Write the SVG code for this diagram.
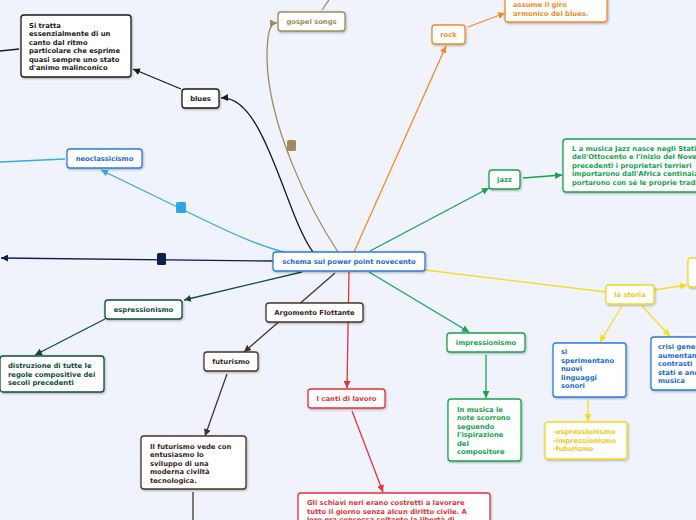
<svg xmlns="http://www.w3.org/2000/svg" width="696" height="520" viewBox="0 0 696 520">
<defs>
<style>
text{font-family:"DejaVu Sans",Verdana,sans-serif;font-weight:bold;font-size:6.8px}
.c{text-anchor:middle}
.box{fill:#fff;stroke-width:1.3;filter:url(#sh)}
.ln{fill:none;stroke-width:1.3}
.k{stroke:#1a1a1a}.kt{fill:#1a1a1a}
.t{stroke:#a08a5c}.tt{fill:#a08a5c}
.o{stroke:#f28c28}.ot{fill:#f28c28}
.g{stroke:#17a34f}.gt{fill:#17a34f}
.lb{stroke:#3aa8e4}
.b{stroke:#2a7be0}.bt{fill:#1c6ad6}
.n{stroke:#0d2150}
.dg{stroke:#0e4d3c}.dgt{fill:#0e4d3c}
.br{stroke:#4a3428}.brt{fill:#3a281e}
.r{stroke:#e5323b}.rt{fill:#e5323b}
.y{stroke:#f5dc1e}.yt{fill:#eccb12}
</style>
<filter id="sh" x="-20%" y="-20%" width="140%" height="150%"><feDropShadow dx="0.8" dy="1" stdDeviation="0.8" flood-color="#000" flood-opacity="0.3"/></filter>
<marker id="mk" markerUnits="userSpaceOnUse" markerWidth="7" markerHeight="7" refX="7" refY="3.5" orient="auto"><path d="M0,0L7,3.5L0,7z" fill="#1a1a1a"/></marker>
<marker id="mt" markerUnits="userSpaceOnUse" markerWidth="7" markerHeight="7" refX="7" refY="3.5" orient="auto"><path d="M0,0L7,3.5L0,7z" fill="#a08a5c"/></marker>
<marker id="mo" markerUnits="userSpaceOnUse" markerWidth="7" markerHeight="7" refX="7" refY="3.5" orient="auto"><path d="M0,0L7,3.5L0,7z" fill="#f28c28"/></marker>
<marker id="mg" markerUnits="userSpaceOnUse" markerWidth="7" markerHeight="7" refX="7" refY="3.5" orient="auto"><path d="M0,0L7,3.5L0,7z" fill="#17a34f"/></marker>
<marker id="mlb" markerUnits="userSpaceOnUse" markerWidth="7" markerHeight="7" refX="7" refY="3.5" orient="auto"><path d="M0,0L7,3.5L0,7z" fill="#3aa8e4"/></marker>
<marker id="mn" markerUnits="userSpaceOnUse" markerWidth="7" markerHeight="7" refX="7" refY="3.5" orient="auto"><path d="M0,0L7,3.5L0,7z" fill="#0d2150"/></marker>
<marker id="mdg" markerUnits="userSpaceOnUse" markerWidth="7" markerHeight="7" refX="7" refY="3.5" orient="auto"><path d="M0,0L7,3.5L0,7z" fill="#0e4d3c"/></marker>
<marker id="mbr" markerUnits="userSpaceOnUse" markerWidth="7" markerHeight="7" refX="7" refY="3.5" orient="auto"><path d="M0,0L7,3.5L0,7z" fill="#4a3428"/></marker>
<marker id="mr" markerUnits="userSpaceOnUse" markerWidth="7" markerHeight="7" refX="7" refY="3.5" orient="auto"><path d="M0,0L7,3.5L0,7z" fill="#e5323b"/></marker>
<marker id="my" markerUnits="userSpaceOnUse" markerWidth="7" markerHeight="7" refX="7" refY="3.5" orient="auto"><path d="M0,0L7,3.5L0,7z" fill="#f5dc1e"/></marker>
</defs>
<rect x="0" y="0" width="696" height="520" fill="#f0f3fc"/>

<g id="connectors">
<path class="ln k" d="M0,51L19,49"/>
<path class="ln k" d="M181,89L133,69" marker-end="url(#mk)"/>
<path class="ln k" d="M313,252C285,215 265,95 221,98" marker-end="url(#mk)"/>
<path class="ln t" d="M322,10L329,0"/>
<path class="ln t" d="M338,252C310,210 268,125 267,58C267,32 270,23 277,23" marker-end="url(#mt)"/>
<rect x="287" y="140" width="9" height="11" rx="1.5" fill="#a08a5c"/>
<path class="ln o" d="M354,252L446,46" marker-end="url(#mo)"/>
<path class="ln o" d="M468,27L505,13" marker-end="url(#mo)"/>
<path class="ln g" d="M370,251L489,188" marker-end="url(#mg)"/>
<path class="ln g" d="M523,178L562,175" marker-end="url(#mg)"/>
<path class="ln lb" d="M0,162L65,159"/>
<path class="ln lb" d="M288,253C262,247 235,235 200,218L101,170" marker-end="url(#mlb)"/>
<rect x="176" y="202" width="10" height="11" rx="1.5" fill="#2fa6e2"/>
<path class="ln n" d="M273,261L1,258" marker-end="url(#mn)"/>
<rect x="157" y="253" width="9" height="12" rx="1.5" fill="#0d2150"/>
<path class="ln dg" d="M302,272L184,300" marker-end="url(#mdg)"/>
<path class="ln dg" d="M105,319L35,355" marker-end="url(#mdg)"/>
<path class="ln br" d="M335,273L244,352" marker-end="url(#mbr)"/>
<path class="ln br" d="M227,374L205,436" marker-end="url(#mbr)"/>
<path class="ln br" d="M193,492L193,520"/>
<path class="ln r" d="M349,272L347,388" marker-end="url(#mr)"/>
<path class="ln r" d="M352,411L383,492" marker-end="url(#mr)"/>
<path class="ln g" d="M369,272L469,332" marker-end="url(#mg)"/>
<path class="ln g" d="M486,355L486,398" marker-end="url(#mg)"/>
<path class="ln y" d="M425,270L606,292"/>
<path class="ln y" d="M654,290L687,285" marker-end="url(#my)"/>
<path class="ln y" d="M622,306L600,342" marker-end="url(#my)"/>
<path class="ln y" d="M642,306L670,336" marker-end="url(#my)"/>
<path class="ln y" d="M588,400L588,421" marker-end="url(#my)"/>
</g>

<g id="center">
<rect class="box b" x="273" y="252" width="152" height="19" rx="3"/>
<text class="c bt" x="349" y="264">schema sul power point novecento</text>
</g>

<g id="si-tratta">
<rect class="box k" x="21" y="15" width="110" height="62" rx="3"/>
<text class="kt" x="29" y="27.5">Si tratta</text>
<text class="kt" x="29" y="36">essenzialmente di un</text>
<text class="kt" x="29" y="44.5">canto dal ritmo</text>
<text class="kt" x="29" y="53">particolare che esprime</text>
<text class="kt" x="29" y="61.5">quasi sempre uno stato</text>
<text class="kt" x="29" y="70">d'animo malinconico</text>
</g>

<g id="blues">
<rect class="box k" x="182" y="89" width="37" height="19" rx="3"/>
<text class="c kt" x="200.5" y="101">blues</text>
</g>

<g id="gospel">
<rect class="box t" x="278" y="12" width="67" height="19" rx="3"/>
<text class="c tt" x="311.5" y="24">gospel songs</text>
</g>

<g id="rock">
<rect class="box o" x="432" y="25" width="33" height="19" rx="3"/>
<text class="c ot" x="448.5" y="37">rock</text>
</g>

<g id="rock-note">
<rect class="box o" x="505" y="-30" width="102" height="52" rx="3"/>
<text class="ot" x="513" y="7">assume il giro</text>
<text class="ot" x="513" y="15.5">armonico del blues.</text>
</g>

<g id="jazz">
<rect class="box g" x="489" y="170" width="31" height="19" rx="3"/>
<text class="c gt" x="504.5" y="182">jazz</text>
</g>

<g id="jazz-note">
<rect class="box g" x="563" y="139" width="150" height="53" rx="3"/>
<text class="gt" x="572" y="150.5">L a musica Jazz nasce negli Stati</text>
<text class="gt" x="572" y="159">dell'Ottocento e l'inizio del Novecento</text>
<text class="gt" x="572" y="167.5">precedenti i proprietari terrieri</text>
<text class="gt" x="572" y="176">importarono dall'Africa centinaia</text>
<text class="gt" x="572" y="184.5">portarono con sé le proprie tradizioni</text>
</g>

<g id="neoclassicismo">
<rect class="box b" x="67" y="149" width="75" height="19" rx="3"/>
<text class="c bt" x="104.5" y="161">neoclassicismo</text>
</g>

<g id="espressionismo">
<rect class="box dg" x="105" y="300" width="77" height="19" rx="3"/>
<text class="c dgt" x="143.5" y="312">espressionismo</text>
</g>

<g id="distruzione">
<rect class="box dg" x="0" y="356" width="104" height="36" rx="3"/>
<text class="dgt" x="8" y="368">distruzione di tutte le</text>
<text class="dgt" x="8" y="376.5">regole compositive dei</text>
<text class="dgt" x="8" y="385">secoli precedenti</text>
</g>

<g id="argomento">
<rect class="box br" x="266" y="303" width="97" height="19" rx="3"/>
<text class="c brt" x="314.5" y="315">Argomento Flottante</text>
</g>

<g id="futurismo">
<rect class="box br" x="204" y="352" width="54" height="19" rx="3"/>
<text class="c brt" x="231" y="364">futurismo</text>
</g>

<g id="futurismo-note">
<rect class="box br" x="141" y="436" width="105" height="53" rx="3"/>
<text class="brt" x="150" y="448.5">Il futurismo vede con</text>
<text class="brt" x="150" y="457">entusiasmo lo</text>
<text class="brt" x="150" y="465.5">sviluppo di una</text>
<text class="brt" x="150" y="474">moderna civiltà</text>
<text class="brt" x="150" y="482.5">tecnologica.</text>
</g>

<g id="canti">
<rect class="box r" x="308" y="389" width="77" height="19" rx="3"/>
<text class="c rt" x="346.5" y="401">I canti di lavoro</text>
</g>

<g id="canti-note">
<rect class="box r" x="298" y="493" width="192" height="40" rx="3"/>
<text class="rt" x="307" y="505">Gli schiavi neri erano costretti a lavorare</text>
<text class="rt" x="307" y="513.5">tutto il giorno senza alcun diritto civile. A</text>
<text class="rt" x="307" y="522">loro era concessa soltanto la libertà di</text>
</g>

<g id="impressionismo">
<rect class="box g" x="447" y="333" width="78" height="19" rx="3"/>
<text class="c gt" x="486" y="345">impressionismo</text>
</g>

<g id="impressionismo-note">
<rect class="box g" x="448" y="399" width="73" height="62" rx="3"/>
<text class="gt" x="457" y="411.5">In musica le</text>
<text class="gt" x="457" y="420">note scorrono</text>
<text class="gt" x="457" y="428.5">seguendo</text>
<text class="gt" x="457" y="437">l'ispirazione</text>
<text class="gt" x="457" y="445.5">del</text>
<text class="gt" x="457" y="454">compositore</text>
</g>

<g id="la-storia">
<rect class="box y" x="606" y="285" width="48" height="19" rx="3"/>
<text class="c yt" x="630" y="297">la storia</text>
</g>

<g id="storia-right">
<rect class="box y" x="688" y="258" width="30" height="29" rx="3"/>
</g>

<g id="sperimentano">
<rect class="box b" x="553" y="343" width="73" height="54" rx="3"/>
<text class="bt" x="561" y="354">si</text>
<text class="bt" x="561" y="362.5">sperimentano</text>
<text class="bt" x="561" y="371">nuovi</text>
<text class="bt" x="561" y="379.5">linguaggi</text>
<text class="bt" x="561" y="388">sonori</text>
</g>

<g id="correnti">
<rect class="box y" x="545" y="422" width="82" height="37" rx="3"/>
<text class="yt" x="553" y="434">-espressionismo</text>
<text class="yt" x="553" y="442.5">-impressionismo</text>
<text class="yt" x="553" y="451">-futurismo</text>
</g>

<g id="crisi">
<rect class="box b" x="651" y="337" width="60" height="53" rx="3"/>
<text class="bt" x="658" y="349">crisi generale</text>
<text class="bt" x="658" y="357.5">aumentano</text>
<text class="bt" x="658" y="366">contrasti</text>
<text class="bt" x="658" y="374.5">stati e anche</text>
<text class="bt" x="658" y="383">musica</text>
</g>
</svg>
